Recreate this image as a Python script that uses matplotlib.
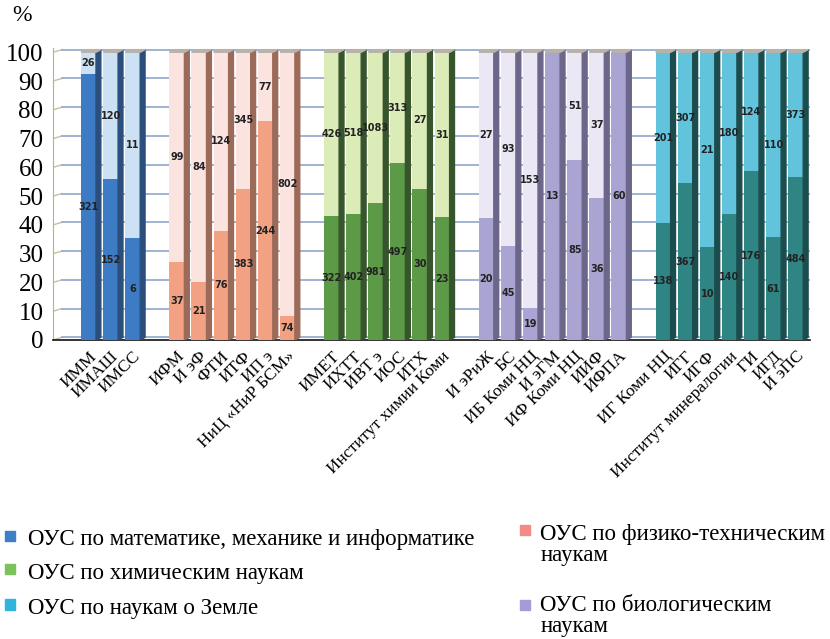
import matplotlib
matplotlib.use("Agg")
import matplotlib.pyplot as plt
from matplotlib.patches import Polygon, Rectangle
import numpy as np

plt.rcParams['font.family'] = ['Liberation Serif', 'DejaVu Serif']

# Institutes grouped by council
groups = [
    ["ИММ", "ИМАШ", "ИМСС"],
    ["ИФМ", "И эФ", "ФТИ", "ИТФ", "ИП э", "НиЦ «НиР БСМ»"],
    ["ИМЕТ", "ИХТТ", "ИВТ э", "ИОС", "ИТХ", "Институт химии Коми"],
    ["И эРиЖ", "БС", "ИБ Коми НЦ", "И эГМ", "ИФ Коми НЦ", "ИИФ", "ИФПА"],
    ["ИГ Коми НЦ", "ИГГ", "ИГФ", "Институт минералогии", "ГИ", "ИГД", "И эПС"],
]
# lower (dark) segment counts
lower = [
    [321, 152, 6],
    [37, 21, 76, 383, 244, 74],
    [322, 402, 981, 497, 30, 23],
    [20, 45, 19, 13, 85, 36, 60],
    [138, 367, 10, 140, 176, 61, 484],
]
# upper (light) segment counts
upper = [
    [26, 120, 11],
    [99, 84, 124, 345, 77, 802],
    [426, 518, 1083, 313, 27, 31],
    [27, 93, 153, 0, 51, 37, 0],
    [201, 307, 21, 180, 124, 110, 373],
]
dark_colors = ["#3d7cc4", "#f2a283", "#5c9a47", "#aaa4d2", "#2f8584"]
light_colors = ["#cde1f4", "#fbe4e0", "#dcecb9", "#ece7f4", "#62c3dc"]
side_colors = ["#2a4f7c", "#9c6a58", "#36552c", "#6c678a", "#1c4d4e"]
legend_labels = [
    "ОУС по математике, механике и информатике",
    "ОУС по химическим наукам",
    "ОУС по наукам о Земле",
    "ОУС по физико-техническим\nнаукам",
    "ОУС по биологическим\nнаукам",
]
legend_colors = ["#3f7fc8", "#7cc25a", "#30b4dc", "#f48a84", "#a69bd6"]

fig = plt.figure(figsize=(8.3, 6.39), dpi=100)
ax = fig.add_axes([0.064, 0.468, 0.912, 0.457])

w = 0.68
depth = 0.22
rise = 0.9
xs, names = [], []
pos = 0
for gi, grp in enumerate(groups):
    for j, name in enumerate(grp):
        lo, up = lower[gi][j], upper[gi][j]
        tot = lo + up
        p_lo = 100.0 * lo / tot
        p_up = 100.0 - p_lo
        x = pos
        xs.append(x)
        names.append(name)
        ax.bar(x, p_lo, width=w, color=dark_colors[gi], zorder=3)
        if p_up > 0:
            ax.bar(x, p_up, bottom=p_lo, width=w, color=light_colors[gi], zorder=3)
        xr = x + w / 2
        ax.add_patch(Polygon([(xr, 0), (xr + depth, rise), (xr + depth, 100 + rise), (xr, 100)],
                             closed=True, color=side_colors[gi], zorder=3))
        xl = x - w / 2
        ax.add_patch(Polygon([(xl, 100), (xl + depth, 100 + rise), (xr + depth, 100 + rise), (xr, 100)],
                             closed=True, color="#b9b2a8", zorder=3))
        ax.text(x, p_lo / 2, str(lo), ha="center", va="center", fontsize=7,
                fontweight="bold", family="DejaVu Sans Condensed", color="#222222", zorder=4)
        if up > 0:
            ax.text(x, p_lo + p_up / 2, str(up), ha="center", va="center", fontsize=7,
                    fontweight="bold", family="DejaVu Sans Condensed", color="#222222", zorder=4)
        pos += 1
    pos += 1

ax.set_xlim(-1.6, xs[-1] + 0.65)
ax.set_ylim(0, 101.5)
ax.set_yticks(np.arange(0, 101, 10))
ax.tick_params(axis="y", labelsize=18, length=0, pad=7)
ax.set_xticks(xs)
ax.set_xticklabels(names, rotation=45, ha="right", rotation_mode="anchor", fontsize=12.5)
ax.tick_params(axis="x", length=0, pad=6)

for yv in np.arange(0, 101, 10):
    ax.plot([-1.6, -1.2], [yv, yv + rise], color="#c8c0a0", lw=1, zorder=1)
    ax.plot([-1.2, xs[-1] + 0.65], [yv + rise, yv + rise], color="#8fa6cc", lw=1.2, zorder=1)
for side in ["top", "right"]:
    ax.spines[side].set_visible(False)
ax.spines["left"].set_color("#b8b090")
ax.spines["bottom"].set_color("#111111")
ax.spines["bottom"].set_linewidth(1.2)

fig.text(0.015, 0.975, "%", fontsize=17, ha="left", va="center")

# legend
left_items = [(0, 0.155), (1, 0.103), (2, 0.048)]
right_items = [(3, 0.147, 0.163), (4, 0.036, 0.045)]
for idx, yy in left_items:
    fig.patches.append(Rectangle((0.006, yy - 0.002), 0.012, 0.016, transform=fig.transFigure,
                                 color=legend_colors[idx], figure=fig))
    fig.text(0.034, yy, legend_labels[idx], fontsize=16.5, va="center", ha="left")
for idx, yy, sq in right_items:
    fig.patches.append(Rectangle((0.627, sq), 0.012, 0.016, transform=fig.transFigure,
                                 color=legend_colors[idx], figure=fig))
    fig.text(0.651, yy, legend_labels[idx], fontsize=16.5, va="center", ha="left", linespacing=1.05)

fig.savefig("out.png", dpi=100)
